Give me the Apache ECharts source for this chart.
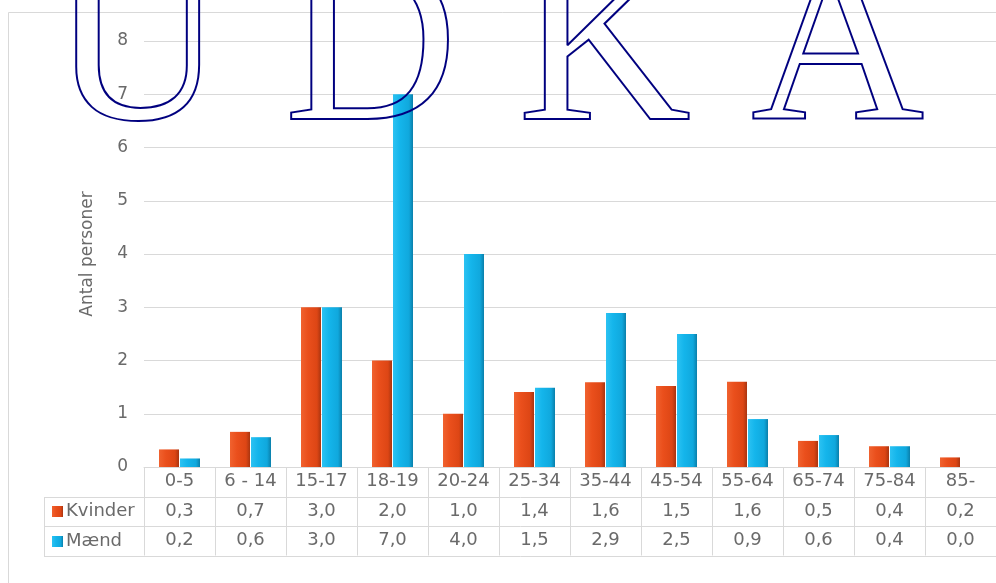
<!DOCTYPE html>
<html>
<head>
<meta charset="utf-8">
<script src="https://cdn.jsdelivr.net/npm/echarts@6/dist/echarts.min.js"></script>
<style>
html,body{margin:0;padding:0;background:#fff;}
#chart{width:996px;height:583px;}
</style>
</head>
<body>
<div id="chart"></div>
<script>
// ---- data ----
const categories = ['0-5', '6 - 14', '15-17', '18-19', '20-24', '25-34', '35-44', '45-54', '55-64', '65-74', '75-84', '85-'];
const kvinder = [0.33, 0.66, 3.0, 2.0, 1.0, 1.41, 1.59, 1.52, 1.6, 0.49, 0.39, 0.18];
const maend = [0.16, 0.56, 3.0, 7.0, 4.0, 1.49, 2.89, 2.5, 0.9, 0.6, 0.39, 0.0];
const seriesNames = ['Kvinder', 'Mænd'];
const yTicks = [0, 1, 2, 3, 4, 5, 6, 7, 8];
const yTitle = 'Antal personer';
const watermark = 'U D K A S T';

// ---- layout ----
const gridLeft = 144, gridTop = 41, gridBottomY = 467, gridWidth = 857;
const rowH = 29.5;
const tableLeft = 44;
const textColor = '#6a6a6a';
const lineColor = '#d9d9d9';
const font = '"DejaVu Sans", Verdana, sans-serif';

function fmt(v) { return v.toFixed(1).replace('.', ','); }

const chart = echarts.init(document.getElementById('chart'), null, {renderer: 'canvas'});

const gradK = new echarts.graphic.LinearGradient(0, 0, 1, 0, [
  {offset: 0, color: '#F0622F'},
  {offset: 0.35, color: '#EA4F1C'},
  {offset: 0.8, color: '#DD4615'},
  {offset: 1, color: '#A93510'}
]);
const gradM = new echarts.graphic.LinearGradient(0, 0, 1, 0, [
  {offset: 0, color: '#2CC2F2'},
  {offset: 0.35, color: '#14B5EB'},
  {offset: 0.8, color: '#10A8DD'},
  {offset: 1, color: '#0A7FAA'}
]);

const tableYs = [gridBottomY + rowH, gridBottomY + 2 * rowH, gridBottomY + 3 * rowH];
const tableRight = gridLeft + gridWidth;

const graphics = [
  {type: 'rect', shape: {x: 8.5, y: 12.5, width: 1100, height: 700}, style: {fill: 'none', stroke: lineColor, lineWidth: 1}, z: 0, silent: true}
];
tableYs.forEach(y => {
  graphics.push({type: 'line', shape: {x1: tableLeft, y1: Math.round(y) + 0.5, x2: tableRight, y2: Math.round(y) + 0.5},
    style: {stroke: lineColor, lineWidth: 1}, z: 5, silent: true});
});
graphics.push({type: 'line', shape: {x1: tableLeft + 0.5, y1: Math.round(tableYs[0]) + 0.5, x2: tableLeft + 0.5, y2: Math.round(tableYs[2]) + 0.5},
  style: {stroke: lineColor, lineWidth: 1}, z: 5, silent: true});
graphics.push({
  type: 'text', left: 50, top: -65, z: 100, silent: true,
  style: {text: watermark, font: '240px "Liberation Serif", "Times New Roman", serif', fill: 'none', stroke: '#00007F', lineWidth: 2}
});

chart.setOption({
  backgroundColor: '#ffffff',
  animation: false,
  grid: {left: gridLeft, top: gridTop, width: gridWidth, height: gridBottomY - gridTop, containLabel: false},
  legend: {
    data: seriesNames, orient: 'vertical', left: 52, top: tableYs[0] + 6,
    itemWidth: 11, itemHeight: 11, itemGap: 12, padding: 0,
    icon: 'rect',
    textStyle: {fontSize: 18, color: textColor, fontFamily: font, padding: [0, 0, 0, -2]},
    selectedMode: false
  },
  xAxis: {
    type: 'category', data: categories, boundaryGap: true,
    axisLine: {show: true, lineStyle: {color: lineColor, width: 1}},
    axisTick: {show: true, length: 3 * rowH, lineStyle: {color: lineColor, width: 1}},
    axisLabel: {
      interval: 0, margin: 0,
      formatter: function (value, idx) {
        return '{c|' + value + '}\n{v|' + fmt(kvinder[idx]) + '}\n{v|' + fmt(maend[idx]) + '}';
      },
      rich: {
        c: {fontSize: 18, lineHeight: rowH, color: textColor, fontFamily: font, align: 'center'},
        v: {fontSize: 18, lineHeight: rowH, color: textColor, fontFamily: font, align: 'center'}
      }
    }
  },
  yAxis: {
    type: 'value', min: yTicks[0], max: yTicks[yTicks.length - 1], interval: 1,
    name: yTitle, nameLocation: 'middle', nameRotate: 90, nameGap: 48,
    nameTextStyle: {fontSize: 17, color: textColor, fontFamily: font},
    axisLine: {show: false}, axisTick: {show: false},
    axisLabel: {fontSize: 17, color: textColor, fontFamily: font, margin: 16},
    splitLine: {show: true, lineStyle: {color: lineColor, width: 1}}
  },
  series: [
    {name: seriesNames[0], type: 'bar', data: kvinder, barWidth: 20, barGap: '5%',
      itemStyle: {color: gradK}},
    {name: seriesNames[1], type: 'bar', data: maend, barWidth: 20, barGap: '5%',
      itemStyle: {color: gradM}}
  ],
  graphic: graphics
});
</script>
</body>
</html>
